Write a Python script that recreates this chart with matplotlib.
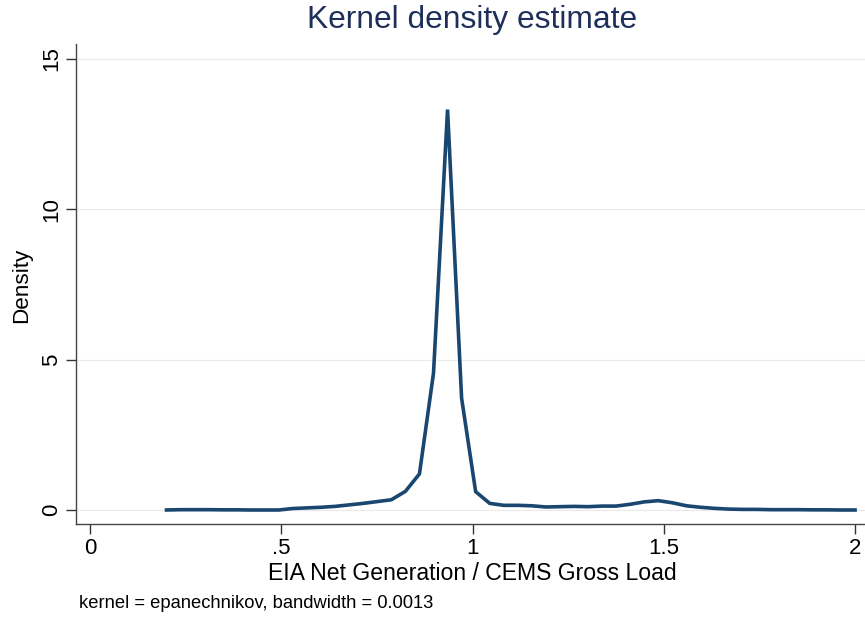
import numpy as np
import matplotlib
matplotlib.use("Agg")
import matplotlib.pyplot as plt

plt.rcParams['font.family'] = ['Liberation Sans', 'DejaVu Sans']

# Kernel density evaluation grid (50 points, Stata default)
x_min, x_max, n_points = 0.2, 2.0, 50
x_vals = np.linspace(x_min, x_max, n_points)
density = [0.0, 0.01, 0.01, 0.01, 0.005, 0.005, 0.0, 0.0, 0.0, 0.05,
           0.07, 0.09, 0.12, 0.17, 0.22, 0.28, 0.34, 0.62, 1.2, 4.55,
           13.32, 3.72, 0.61, 0.22, 0.155, 0.155, 0.14, 0.10, 0.11, 0.12,
           0.11, 0.13, 0.13, 0.19, 0.27, 0.31, 0.24, 0.14, 0.09, 0.055,
           0.03, 0.02, 0.02, 0.01, 0.01, 0.01, 0.005, 0.005, 0.0, 0.0]

x_ticks = [0, 0.5, 1, 1.5, 2]
x_tick_labels = ["0", ".5", "1", "1.5", "2"]
y_ticks = [0, 5, 10, 15]
y_tick_labels = ["0", "5", "10", "15"]

title = "Kernel density estimate"
x_label = "EIA Net Generation / CEMS Gross Load"
y_label = "Density"
note = "kernel = epanechnikov, bandwidth = 0.0013"

fig = plt.figure(figsize=(8.65, 6.18), dpi=100)
W, H = 865, 618
ax = fig.add_axes([76 / W, 1 - 524 / H, (865 - 76) / W, (524 - 44) / H])

for yt in y_ticks:
    ax.axhline(yt, color="#eaeaea", lw=0.8, zorder=0)

ax.plot(x_vals, density, color="#1a476f", lw=2.6, solid_joinstyle="miter", zorder=3)

ax.set_xlim(-0.0366, 2.026)
ax.set_ylim(-0.466, 15.5)

ax.set_xticks(x_ticks)
ax.set_xticklabels(x_tick_labels, fontsize=16)
ax.set_yticks(y_ticks)
ax.set_yticklabels(y_tick_labels, fontsize=16, rotation=90, va="center")

ax.tick_params(axis="both", direction="out", length=7, width=1, color="#333333")
ax.tick_params(axis="x", pad=3)
ax.tick_params(axis="y", pad=3)

for s in ["top", "right"]:
    ax.spines[s].set_visible(False)
for s in ["left", "bottom"]:
    ax.spines[s].set_color("#444444")
    ax.spines[s].set_linewidth(1.0)

fig.text(472 / W, 1 - 573 / H, x_label, fontsize=16.6, color="black",
         ha="center", va="center")
fig.text(22 / W, 1 - 285 / H, y_label, fontsize=16.2, color="black",
         ha="center", va="center", rotation=90)
fig.text(472 / W, 1 - 20 / H, title, fontsize=22.9, color="#1e2f5a",
         ha="center", va="center")
fig.text(79 / W, 1 - 603 / H, note, fontsize=13.2, color="black",
         ha="left", va="center")

fig.savefig("out.png", dpi=100, facecolor="white")
